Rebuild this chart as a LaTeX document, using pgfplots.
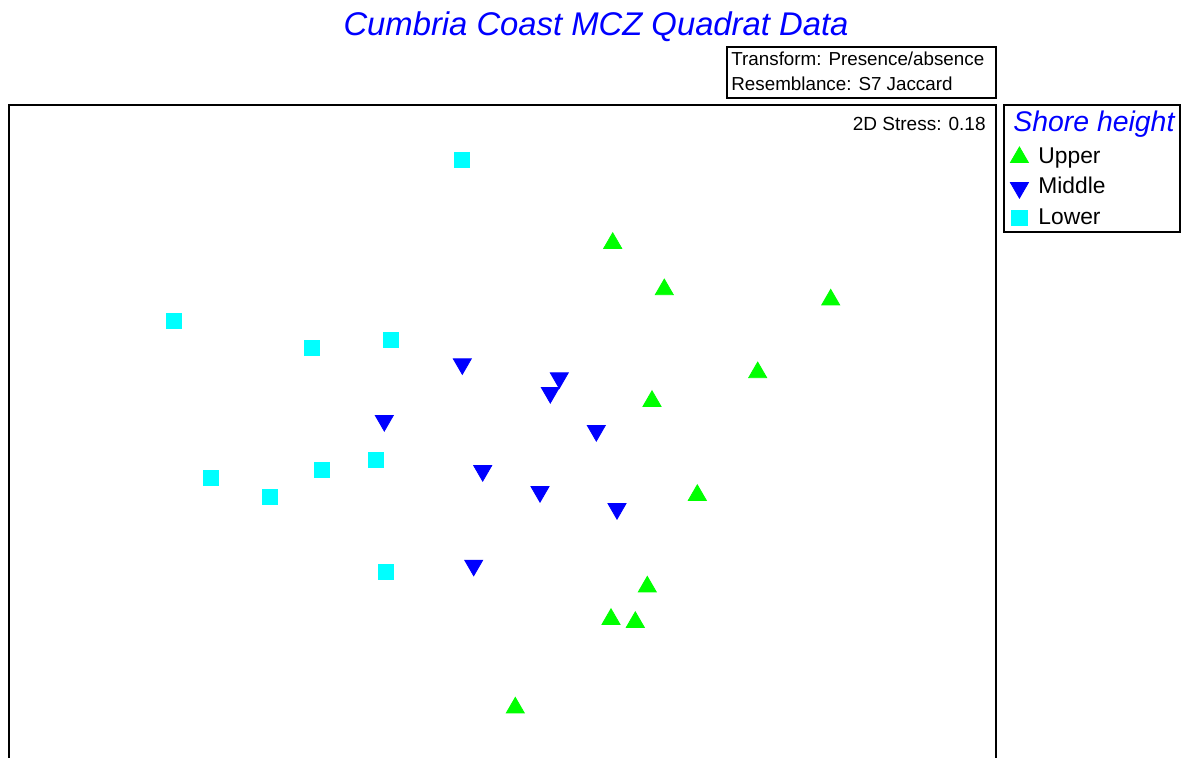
\documentclass[border=0pt]{standalone}
\usepackage{pgfplots}
\pgfplotsset{compat=1.18}
\usepackage{fontspec}
\setmainfont{Liberation Sans}
\definecolor{upc}{RGB}{0,255,0}
\definecolor{midc}{RGB}{0,0,255}
\definecolor{lowc}{RGB}{0,255,255}
\definecolor{titc}{RGB}{0,0,255}
\begin{document}
\begin{tikzpicture}
\begin{axis}[
  x=0.5pt, y=0.5pt,
  xmin=9, xmax=996, ymin=0, ymax=653,
  hide axis, clip=false,
  legend cell align=left,
  legend image code/.code={\path[draw=none,fill=none] (0.5pt,0pt) -- (13.5pt,0pt);\draw[#1] plot coordinates {(5pt,0pt)};},
  legend style={at={(axis description cs:1.0142,0.9418)}, anchor=north west,
    draw=none, fill=none, inner sep=0pt, row sep=1.2pt,
    font=\fontsize{11.4}{13}\selectfont,
    nodes={inner sep=1pt, text height=9pt, text depth=3pt}},
]
\addplot[only marks, color=upc, mark=triangle*, mark size=5.2pt, mark options={line width=0.4pt}] coordinates {
(612.7,514.8) (664.3,468.5) (830.7,458.2) (757.7,385.5) (652,356.8)
(697.3,262.8) (647.3,171.2) (611,138.8) (635.3,135.8) (515.3,50.2)
};
\addlegendentry{Upper}
\addplot[only marks, color=midc, mark=triangle*, mark size=5.2pt, mark options={line width=0.4pt, rotate=180}] coordinates {
(462.3,394) (559.3,380) (550.3,365.3) (384.3,337.3) (596.3,327.3)
(482.7,287.2) (540,266.2) (617,249.2) (473.7,192.6)
};
\addlegendentry{Middle}
\addplot[only marks, color=lowc, mark=square*, mark size=3.8pt, mark options={line width=0.4pt}] coordinates {
(462,598) (174,437) (312,410) (391,418) (211,280)
(270,261) (322,288) (376,298) (386,186)
};
\addlegendentry{Lower}
% frame lines of the plot area (bottom edge lies below the picture)
\draw[line width=0.6pt] (axis cs:9,-10) -- (axis cs:9,653) -- (axis cs:996,653) -- (axis cs:996,-10);
% title
\node[font=\fontsize{16.4}{19}\selectfont\itshape, text=titc, inner sep=0pt] at (axis cs:596,731) {Cumbria Coast MCZ Quadrat Data};
% transform box
\draw[line width=0.6pt] (axis cs:727,711) rectangle (axis cs:996,660);
\node[font=\fontsize{9.4}{11}\selectfont, anchor=west, inner sep=0pt] at (axis cs:731,699) {Transform: Presence/absence};
\node[font=\fontsize{9.4}{11}\selectfont, anchor=west, inner sep=0pt] at (axis cs:731,674) {Resemblance: S7 Jaccard};
% stress
\node[font=\fontsize{9.5}{11}\selectfont, anchor=east, inner sep=0pt] at (axis cs:986,634) {2D Stress: 0.18};
% legend frame and title
\draw[line width=0.6pt] (axis cs:1004,653) rectangle (axis cs:1180,526);
\node[font=\fontsize{14.2}{16}\selectfont\itshape, text=titc, anchor=west, inner sep=0pt] at (axis cs:1013,634) {Shore height};
\coordinate (BL) at (axis cs:0,0);
\coordinate (TR) at (axis cs:1184,758);
\end{axis}
\pgfresetboundingbox
\path[use as bounding box] (BL) rectangle (TR);
\end{tikzpicture}
\end{document}
